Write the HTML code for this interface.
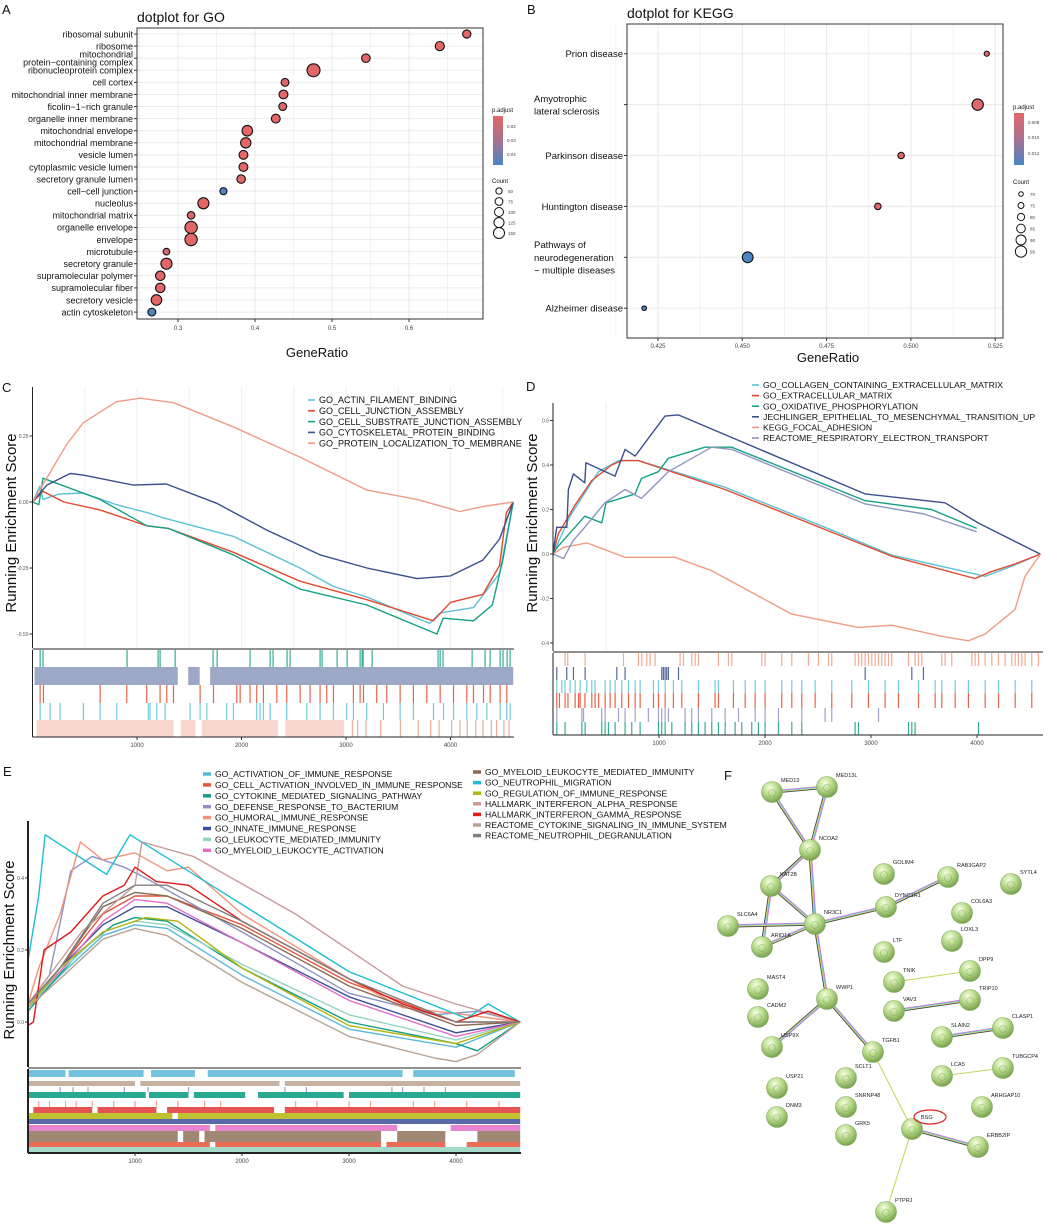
<!DOCTYPE html>
<html><head><meta charset="utf-8">
<style>
html,body{margin:0;padding:0;background:#fff;}
svg{display:block;font-family:"Liberation Sans",Arial,sans-serif;}
</style></head>
<body>
<svg id="fig" width="1052" height="1229" viewBox="0 0 1052 1229" xmlns="http://www.w3.org/2000/svg">
<defs>
<linearGradient id="gA" x1="0" y1="0" x2="0" y2="1"><stop offset="0" stop-color="#e36767"/><stop offset="0.5" stop-color="#a9708f"/><stop offset="1" stop-color="#4a86c5"/></linearGradient>
<radialGradient id="ball" cx="0.4" cy="0.3" r="0.75"><stop offset="0" stop-color="#f4ffe0"/><stop offset="0.45" stop-color="#b9dc8c"/><stop offset="1" stop-color="#6f9a45"/></radialGradient>
</defs>
<g id="panelA"></g>
<g id="panelB"></g>
<g id="panelC"></g>
<g id="panelD"></g>
<g id="panelE"></g>
<g id="panelF"></g>
</svg>
<script>
// ---------- Panel A data ----------
const goTerms = ["ribosomal subunit","ribosome","mitochondrial\nprotein\u2212containing complex","ribonucleoprotein complex","cell cortex","mitochondrial inner membrane","ficolin\u22121\u2212rich granule","organelle inner membrane","mitochondrial envelope","mitochondrial membrane","vesicle lumen","cytoplasmic vesicle lumen","secretory granule lumen","cell\u2212cell junction","nucleolus","mitochondrial matrix","organelle envelope","envelope","microtubule","secretory granule","supramolecular polymer","supramolecular fiber","secretory vesicle","actin cytoskeleton"];
const goRatio = [0.675,0.640,0.544,0.476,0.439,0.437,0.436,0.427,0.390,0.388,0.385,0.385,0.382,0.359,0.333,0.317,0.317,0.317,0.285,0.285,0.277,0.277,0.272,0.266];
const goCount = [60,75,65,150,55,70,55,70,100,95,70,70,65,45,110,50,135,135,40,110,80,80,100,55];
const goPadj = [0.012,0.012,0.012,0.012,0.013,0.012,0.013,0.012,0.012,0.012,0.012,0.012,0.013,0.048,0.012,0.015,0.012,0.012,0.016,0.012,0.012,0.012,0.012,0.046];
const goTicks = [0.3,0.4,0.5,0.6];
const goCountLegend = [50,75,100,125,150];
// ---------- Panel B data ----------
const keggTerms = ["Prion disease","Amyotrophic\nlateral sclerosis","Parkinson disease","Huntington disease","Pathways of\nneurodegeneration\n\u2212 multiple diseases","Alzheimer disease"];
const keggRatio = [0.5225,0.5198,0.4971,0.4902,0.4516,0.4209];
const keggCount = [72,95,77,77,93,70];
const keggPadj = [0.0075,0.0076,0.0077,0.0077,0.0135,0.0135];
const keggTicks = [0.425,0.450,0.475,0.500,0.525];
const keggCountLegend = [70,75,80,85,90,95];

// ---------- Panel C data (rank, score) ----------
const cNames = ["GO_ACTIN_FILAMENT_BINDING","GO_CELL_JUNCTION_ASSEMBLY","GO_CELL_SUBSTRATE_JUNCTION_ASSEMBLY","GO_CYTOSKELETAL_PROTEIN_BINDING","GO_PROTEIN_LOCALIZATION_TO_MEMBRANE"];
const cColors = ["#5bc2d8","#e2492e","#13a085","#3b4f8e","#f09c84"];
const cActin = [[0,0],[70,0.06],[100,0.01],[250,0.03],[485,0.034],[800,-0.01],[1095,-0.04],[1250,-0.06],[1920,-0.13],[2560,-0.25],[2880,-0.32],[3200,-0.36],[3800,-0.46],[3900,-0.42],[4220,-0.4],[4470,-0.27],[4600,0]];
const cJunction = [[0,0],[100,0.04],[300,0.0],[645,-0.03],[1095,-0.09],[1300,-0.1],[1920,-0.19],[2560,-0.3],[3200,-0.37],[3835,-0.45],[4000,-0.38],[4310,-0.35],[4470,-0.24],[4535,-0.04],[4600,0]];
const cSubstrate = [[0,0],[60,-0.01],[100,0.09],[645,0.01],[1095,-0.09],[1300,-0.1],[1920,-0.2],[2560,-0.33],[3200,-0.39],[3870,-0.5],[3930,-0.44],[4220,-0.45],[4400,-0.39],[4500,-0.22],[4600,0]];
const cCyto = [[0,0],[138,0.064],[360,0.108],[485,0.102],[965,0.064],[1280,0.068],[1763,-0.005],[2240,-0.106],[2750,-0.2],[3200,-0.25],[3680,-0.29],[4000,-0.28],[4310,-0.22],[4470,-0.14],[4600,0]];
const cProtein = [[0,0],[150,0.1],[330,0.22],[485,0.3],[805,0.38],[1030,0.393],[1350,0.376],[1920,0.285],[2560,0.17],[3200,0.045],[3680,0.01],[4090,-0.036],[4310,-0.017],[4600,0]];
const cYTicks = [-0.50,-0.25,0.00,0.25];
const cXTicks = [1000,2000,3000,4000];
const cRugGreen = [72,100,904,1201,1220,1364,1727,1766,2081,2273,2301,2435,2464,2751,2770,2914,3010,3134,3153,3163,3249,3880,3900,3928,4206,4330,4378,4474,4502,4541,4569];
const cRugNavy = [[20,1390],[1490,1600],[1700,4600]];
const cRugRed = [72,104,646,901,1092,1220,1284,1348,1603,1731,1954,1986,2081,2145,2209,2337,2432,2560,2655,2751,2815,2879,3070,3134,3166,3293,3389,3517,3644,3772,3900,4028,4155,4219,4315,4379,4474,4538];
const cRugCyan = [72,167,263,486,646,805,1108,1124,1188,1268,1507,1603,1667,1858,1922,2145,2177,2209,2273,2432,2624,2751,2879,3006,3070,3198,3357,3517,3644,3836,3932,4028,4155,4251,4347,4474,4538,4570];
const cRugSalmonBand = [[40,1350],[1420,1560],[1620,2350],[2420,2980]];
const cRugSalmon = [3060,3110,3190,3330,3520,3690,3810,3890,4010,4090,4160,4240,4310,4390,4440,4510,4560];

// ---------- Panel D data ----------
const dNames = ["GO_COLLAGEN_CONTAINING_EXTRACELLULAR_MATRIX","GO_EXTRACELLULAR_MATRIX","GO_OXIDATIVE_PHOSPHORYLATION","JECHLINGER_EPITHELIAL_TO_MESENCHYMAL_TRANSITION_UP","KEGG_FOCAL_ADHESION","REACTOME_RESPIRATORY_ELECTRON_TRANSPORT"];
const dColors = ["#5bc2d8","#e2492e","#13a085","#3b4f8e","#f09c84","#8f95c0"];
const dCollagen = [[0,0],[160,0.17],[428,0.37],[620,0.42],[805,0.42],[1623,0.3],[2566,0.12],[3195,-0.005],[3800,-0.07],[4075,-0.1],[4300,-0.06],[4600,0]];
const dEcm = [[0,0],[50,0.09],[208,0.22],[365,0.33],[553,0.40],[648,0.42],[805,0.42],[1623,0.29],[2566,0.11],[3195,-0.01],[3981,-0.11],[4130,-0.08],[4358,-0.045],[4600,0]];
const dOxphos = [[0,0],[40,0.03],[300,0.17],[460,0.14],[500,0.23],[775,0.27],[835,0.34],[994,0.37],[1088,0.43],[1434,0.48],[1685,0.48],[2943,0.24],[3570,0.2],[3997,0.115]];
const dJech = [[0,0],[35,0.12],[130,0.12],[145,0.29],[192,0.36],[300,0.32],[310,0.41],[585,0.35],[680,0.47],[775,0.44],[1057,0.62],[1182,0.625],[2943,0.27],[3698,0.23],[4010,0.14],[4595,0.0]];
const dFocal = [[0,0],[100,0.03],[320,0.05],[679,-0.015],[1151,-0.015],[1497,-0.075],[2252,-0.27],[2880,-0.33],[3195,-0.32],[3667,-0.37],[3918,-0.39],[4076,-0.36],[4358,-0.25],[4453,-0.1],[4600,0]];
const dReactome = [[0,0],[100,-0.02],[190,0.06],[300,0.12],[490,0.23],[680,0.29],[835,0.25],[1088,0.37],[1497,0.48],[1685,0.47],[2943,0.225],[3500,0.18],[3997,0.10]];
const dYTicks = [-0.4,-0.2,0.0,0.2,0.4,0.6];
const dXTicks = [1000,2000,3000,4000];
const dRugSalmon = [113,138,302,664,805,837,884,915,962,1198,1230,1308,1340,1371,1560,1654,1686,1969,2000,2157,2252,2409,2503,2598,2629,2849,2881,2912,2944,2975,3007,3038,3070,3101,3132,3164,3195,3353,3415,3447,3478,3667,3698,3761,3950,3981,4013,4076,4139,4202,4265,4327,4359,4390,4422,4453,4516,4579];
const dRugNavy = [35,129,192,302,601,679,1025,1041,1057,1072,1088,1183,2944,3384,3494];
const dRugCyan = [35,82,113,160,208,255,318,365,396,491,538,585,648,711,774,821,947,994,1057,1135,1214,1371,1528,1560,1701,1812,1906,2000,2157,2252,2346,2472,2629,2818,2975,3132,3258,3447,3604,3667,3793,3918,4076,4202,4359,4516];
const dRugRed = [35,60,113,140,208,240,255,300,365,396,430,491,538,585,648,711,774,821,947,994,1057,1135,1214,1371,1528,1560,1701,1812,1906,2000,2157,2252,2346,2472,2629,2818,2975,3132,3258,3447,3604,3667,3793,3918,4076,4202,4359,4516];
const dRugLav = [35,271,287,459,491,617,679,774,899,994,1025,1057,1088,1245,1308,1371,1497,1623,1749,1906,2000,2126,2346,2566,2629,3070];
const dRugGreen = [35,113,271,302,459,491,522,585,679,742,821,994,1025,1057,1120,1245,1308,1371,1434,1497,1560,1623,1717,1780,1874,1937,2000,2126,2252,2346,2849,2881,3353,3384,3415,4013];

// ---------- Panel E data ----------
const eNames = ["GO_ACTIVATION_OF_IMMUNE_RESPONSE","GO_CELL_ACTIVATION_INVOLVED_IN_IMMUNE_RESPONSE","GO_CYTOKINE_MEDIATED_SIGNALING_PATHWAY","GO_DEFENSE_RESPONSE_TO_BACTERIUM","GO_HUMORAL_IMMUNE_RESPONSE","GO_INNATE_IMMUNE_RESPONSE","GO_LEUKOCYTE_MEDIATED_IMMUNITY","GO_MYELOID_LEUKOCYTE_ACTIVATION","GO_MYELOID_LEUKOCYTE_MEDIATED_IMMUNITY","GO_NEUTROPHIL_MIGRATION","GO_REGULATION_OF_IMMUNE_RESPONSE","HALLMARK_INTERFERON_ALPHA_RESPONSE","HALLMARK_INTERFERON_GAMMA_RESPONSE","REACTOME_CYTOKINE_SIGNALING_IN_IMMUNE_SYSTEM","REACTOME_NEUTROPHIL_DEGRANULATION"];
const eColors = ["#5ab8d8","#e8533a","#129e86","#8d93c6","#f2937a","#3c4f9a","#93d4c0","#e36fc7","#8a6a52","#1cbfd2","#b5b60d","#c99a9a","#de1a1a","#b8a392","#808080"];
const eActivation = [[0,0.04],[300,0.13],[700,0.24],[1000,0.27],[1300,0.26],[2000,0.13],[3000,-0.02],[4000,-0.07],[4600,0]];
const eCellAct = [[0,0.04],[300,0.15],[700,0.3],[1000,0.35],[1300,0.35],[2000,0.27],[3000,0.11],[4000,0.0],[4600,0]];
const eCytokine = [[0,0.03],[200,0.1],[500,0.2],[800,0.27],[1000,0.29],[1300,0.28],[2000,0.15],[3000,0.0],[4000,-0.06],[4200,-0.08],[4600,0]];
const eDefense = [[0,0.05],[200,0.13],[400,0.42],[600,0.46],[900,0.43],[1100,0.4],[2000,0.25],[3000,0.08],[3800,0.02],[4200,0.03],[4600,0]];
const eHumoral = [[0,0.05],[100,0.15],[300,0.3],[490,0.5],[700,0.45],[1000,0.47],[1300,0.42],[1500,0.43],[2000,0.3],[3000,0.12],[3500,0.04],[4100,0.02],[4600,0]];
const eInnate = [[0,0.05],[300,0.15],[700,0.27],[1000,0.32],[1300,0.32],[2000,0.22],[3000,0.07],[4000,-0.03],[4600,0]];
const eLeukocyte = [[0,0.04],[300,0.14],[700,0.25],[1000,0.28],[1300,0.27],[2000,0.16],[3000,0.02],[4000,-0.05],[4600,0]];
const eMyeloidAct = [[0,0.05],[300,0.14],[700,0.28],[1000,0.34],[1300,0.33],[2000,0.22],[3000,0.06],[4000,-0.04],[4600,0]];
const eMyeloidMed = [[0,0.05],[300,0.15],[700,0.32],[1000,0.36],[1300,0.35],[2000,0.26],[3000,0.1],[4000,-0.01],[4600,0]];
const eNeutroMig = [[0,0.17],[100,0.35],[160,0.52],[735,0.41],[953,0.52],[1766,0.37],[3000,0.14],[4100,0.01],[4300,0.05],[4600,0]];
const eRegulation = [[0,0.04],[300,0.15],[700,0.25],[1100,0.29],[1400,0.28],[2000,0.15],[3000,-0.01],[4000,-0.06],[4600,0]];
const eAlpha = [[0,0.05],[500,0.25],[1000,0.38],[1065,0.5],[1545,0.46],[2500,0.3],[3500,0.1],[4000,0.05],[4600,0]];
const eGamma = [[0,-0.01],[50,0.0],[150,0.2],[400,0.25],[700,0.35],[900,0.38],[1000,0.43],[1200,0.39],[1500,0.38],[2000,0.28],[3000,0.12],[3500,0.05],[4000,0.0],[4300,0.03],[4600,0]];
const eReactCyt = [[0,0.04],[300,0.12],[700,0.23],[1000,0.26],[1300,0.24],[2000,0.11],[3000,-0.04],[3800,-0.1],[4000,-0.11],[4200,-0.09],[4600,0]];
const eReactNeu = [[0,0.05],[300,0.15],[700,0.33],[1000,0.38],[1300,0.38],[2000,0.28],[3000,0.12],[4000,0.0],[4600,0]];
const eYTicks = [0.0,0.2,0.4];
const eXTicks = [1000,2000,3000,4000];
const eRugCyan = [[0,350],[380,1080],[1150,1560],[1680,3500],[3600,4550]];
const eRugTan = [[0,1000],[1050,2350],[2400,4600]];
const eRugTeal = [[0,1100],[1130,1500],[1550,2030],[2150,2950],[3000,4600]];
const eRugRed = [[50,600],[650,1200],[1300,2300],[2400,4600]];
const eRugOlive = [[0,1350],[1400,4600]];
const eRugNavy = [[0,4600]];
const eRugMagenta = [[0,1700],[1750,3450],[3950,4600]];
const eRugBrown = [[0,1400],[1450,1600],[1650,3300],[3450,3900],[4200,4600]];
const eRugOrange = [[0,1700],[1750,3300],[3350,3900],[4100,4600]];
const eRugLightTeal = [[0,4600]];
const eRugLav = [300,420,560,900,1120,1500,2400,2600,3400,3500,3700,3900];
const eRugSalmon = [100,200,350,450,600,800,1000,1200,1400,1650,1800,2500,2700,3000,3200,3600,3800,4100,4400];

// ---------- helpers ----------
const NS="http://www.w3.org/2000/svg";
function el(parent,tag,attrs){const e=document.createElementNS(NS,tag);for(const k in attrs)e.setAttribute(k,attrs[k]);parent.appendChild(e);return e;}
function txt(parent,x,y,s,size,opts){opts=opts||{};const t=el(parent,"text",{x:x,y:y,"font-size":size,fill:opts.fill||"#111","text-anchor":opts.anchor||"start"});if(opts.rot)t.setAttribute("transform","rotate(-90 "+x+" "+y+")");t.textContent=s;return t;}
function lerpColor(a,b,t){const pa=[parseInt(a.slice(1,3),16),parseInt(a.slice(3,5),16),parseInt(a.slice(5,7),16)],pb=[parseInt(b.slice(1,3),16),parseInt(b.slice(3,5),16),parseInt(b.slice(5,7),16)];return "rgb("+pa.map((v,i)=>Math.round(v+(pb[i]-v)*t)).join(",")+")";}

// ---------- Panel A ----------
(function(){
const g=document.getElementById("panelA");
const L=137,R=483,T=28,B=319;
const xs=v=>178+(v-0.3)*770;
const ys=i=>34+i*12.09;
txt(g,2,14,"A",13);
const title=txt(g,137,22,"dotplot for GO",14);


el(g,"rect",{x:L,y:T,width:R-L,height:B-T,fill:"#fff"});
for(let v=0.25;v<=0.66;v+=0.05){const major=Math.abs((v*10)-Math.round(v*10))<0.01;el(g,"line",{x1:xs(v),x2:xs(v),y1:T,y2:B,stroke:"#ebebeb","stroke-width":major?1:0.6});}
goTerms.forEach((t,i)=>{el(g,"line",{x1:L,x2:R,y1:ys(i),y2:ys(i),stroke:"#ebebeb","stroke-width":1});});
el(g,"rect",{x:L,y:T,width:R-L,height:B-T,fill:"none",stroke:"#333","stroke-width":1});
goTerms.forEach((t,i)=>{
  const lines=t.split("\n");const n=lines.length;
  lines.forEach((ln,j)=>{const tt=txt(g,133,ys(i)+3.3+(j-(n-1)/2)*8,ln,9,{anchor:"end"});
    
    });
  el(g,"line",{x1:134,x2:137,y1:ys(i),y2:ys(i),stroke:"#333"});
  const c=el(g,"circle",{cx:xs(goRatio[i]),cy:ys(i),r:Math.sqrt(goCount[i])*0.53,fill:lerpColor("#e36767","#4a86c5",Math.min(1,(goPadj[i]-0.012)/0.036)),stroke:"#111","stroke-width":1.1});
  
  
});
goTicks.forEach(v=>{el(g,"line",{x1:xs(v),x2:xs(v),y1:B,y2:B+3,stroke:"#333"});txt(g,xs(v),B+11,v.toFixed(1),6,{anchor:"middle",fill:"#444"});});
const xt=txt(g,317,357,"GeneRatio",13,{anchor:"middle"});


txt(g,492,112,"p.adjust",6);
el(g,"rect",{x:493,y:116,width:10,height:49,fill:"url(#gA)"});
[["0.02",126],["0.03",140],["0.04",154]].forEach(p=>{txt(g,507,p[1]+2,p[0],4.5,{fill:"#444"});});
txt(g,492,183,"Count",6);
goCountLegend.forEach((c,i)=>{el(g,"circle",{cx:499,cy:191+i*10.5,r:Math.sqrt(c)*0.53*0.85,fill:"none",stroke:"#111","stroke-width":1});txt(g,508,193+i*10.5,String(c),4.5,{fill:"#444"});});
})();

// ---------- Panel B ----------
(function(){
const g=document.getElementById("panelB");
const L=627,R=1003,T=24,B=338;
const xs=v=>658+(v-0.425)*3372;
const ys=i=>53.7+i*50.9;
txt(g,527,14,"B",13);
const title=txt(g,627,18,"dotplot for KEGG",14);


for(let v=0.4125;v<=0.53;v+=0.0125){const major=Math.abs(v*40-Math.round(v*40))<0.01;el(g,"line",{x1:xs(v),x2:xs(v),y1:T,y2:B,stroke:"#ebebeb","stroke-width":major?1.2:0.6});}
keggTerms.forEach((t,i)=>{el(g,"line",{x1:L,x2:R,y1:ys(i),y2:ys(i),stroke:"#ebebeb","stroke-width":1.2});});
el(g,"rect",{x:L,y:T,width:R-L,height:B-T,fill:"none",stroke:"#333","stroke-width":1});
keggTerms.forEach((t,i)=>{
  const lines=t.split("\n");const n=lines.length;
  lines.forEach((ln,j)=>{const tt=txt(g,n>1?534:623,ys(i)+3.5+(j-(n-1)/2)*12.7,ln,9.5,{anchor:n>1?"start":"end"});
    
    });
  el(g,"line",{x1:624,x2:627,y1:ys(i),y2:ys(i),stroke:"#333"});
  const c=el(g,"circle",{cx:xs(keggRatio[i]),cy:ys(i),r:2.3+(keggCount[i]-70)*0.135,fill:lerpColor("#e36767","#4a86c5",Math.min(1,(keggPadj[i]-0.0075)/0.006)),stroke:"#111","stroke-width":1.1});
  
  
});
keggTicks.forEach(v=>{el(g,"line",{x1:xs(v),x2:xs(v),y1:B,y2:B+3,stroke:"#333"});txt(g,xs(v),B+10,v.toFixed(3),6,{anchor:"middle",fill:"#444"});});
const xt=txt(g,828,362,"GeneRatio",13,{anchor:"middle"});


txt(g,1013,109,"p.adjust",6);
el(g,"rect",{x:1014,y:113,width:10,height:52,fill:"url(#gA)"});
[["0.008",122],["0.010",137],["0.012",153]].forEach(p=>{txt(g,1028,p[1]+2,p[0],4.5,{fill:"#444"});});
txt(g,1013,184,"Count",6);
keggCountLegend.forEach((c,i)=>{const r=2.3+(c-70)*0.135;el(g,"circle",{cx:1021,cy:194+i*11.5,r:r,fill:"none",stroke:"#111","stroke-width":1});txt(g,1030,196+i*11.5,String(c),4.5,{fill:"#444"});});
})();

// ---------- GSEA builder ----------
function gsea(g,cfg){
  const xs=r=>cfg.x0+r*cfg.kx;
  const ys=v=>cfg.y0-v*cfg.ky;
  cfg.grid.forEach(r=>el(g,"line",{x1:xs(r),x2:xs(r),y1:cfg.top,y2:cfg.sep,stroke:"#efefef","stroke-width":1}));
  cfg.series.forEach((s,i)=>{
    const p=el(g,"polyline",{points:s.map(d=>xs(d[0]).toFixed(1)+","+ys(d[1]).toFixed(1)).join(" "),fill:"none",stroke:cfg.colors[i],"stroke-width":cfg.lw,"stroke-linejoin":"round"});
    
    
  });
  cfg.yTicks.forEach(v=>{el(g,"line",{x1:cfg.x0-3,x2:cfg.x0,y1:ys(v),y2:ys(v),stroke:"#333"});txt(g,cfg.x0-4,ys(v)+2,cfg.yfmt(v),5,{anchor:"end",fill:"#555"});});
  cfg.rugs.forEach(rw=>{
    (rw.bands||[]).forEach(b=>{const r=el(g,"rect",{x:xs(b[0]),y:rw.y,width:xs(b[1])-xs(b[0]),height:rw.h,fill:rw.c,opacity:rw.op||0.75});});
    (rw.ticks||[]).forEach(t=>{el(g,"rect",{x:xs(t)-0.5,y:rw.y,width:1.2,height:rw.h,fill:rw.c,opacity:0.85});});
  });
  el(g,"line",{x1:cfg.x0,x2:cfg.x0,y1:cfg.top,y2:cfg.sep,stroke:"#222","stroke-width":cfg.axw});
  el(g,"line",{x1:cfg.x0,x2:cfg.x0,y1:cfg.sep+2,y2:cfg.bot,stroke:"#222","stroke-width":cfg.axw});
  el(g,"line",{x1:cfg.x0,x2:cfg.xe,y1:cfg.sep+1,y2:cfg.sep+1,stroke:"#222","stroke-width":1});
  el(g,"line",{x1:cfg.x0,x2:cfg.xe,y1:cfg.bot,y2:cfg.bot,stroke:"#222","stroke-width":cfg.axw});
  cfg.xTicks.forEach(r=>{el(g,"line",{x1:xs(r),x2:xs(r),y1:cfg.bot,y2:cfg.bot+3,stroke:"#333"});txt(g,xs(r),cfg.bot+10,String(r),6,{anchor:"middle",fill:"#444"});});
  const yl=txt(g,cfg.ylx,cfg.yly,"Running Enrichment Score",cfg.ylSize,{anchor:"middle",rot:true});
  
  
}
function legend(g,names,colors,x,y,dy,size,keyW,keyH){
  names.forEach((n,i)=>{
    const k=el(g,"rect",{x:x,y:y+i*dy-keyH/2,width:keyW,height:keyH,fill:colors[i]});
    
    
    const t=txt(g,x+keyW+4,y+i*dy+size*0.36,n,size);
    
    
  });
}

// ---------- Panel C ----------
(function(){
const g=document.getElementById("panelC");
txt(g,2,392,"C",13);
gsea(g,{x0:32.5,kx:0.1045,y0:502,ky:264,top:387,sep:648,bot:737,xe:514,lw:1.4,axw:1,
  grid:[500,1000,1500,2000,2500,3000,3500,4000,4500],
  series:[cActin,cJunction,cSubstrate,cCyto,cProtein],colors:cColors,
  yTicks:cYTicks,yfmt:v=>v.toFixed(2),xTicks:cXTicks,ylx:16,yly:523,ylSize:15,
  rugs:[{y:650,h:17,c:"#13a085",ticks:cRugGreen},{y:667,h:18,c:"#3b4f8e",bands:cRugNavy,op:0.5},{y:685,h:18,c:"#e2492e",ticks:cRugRed},{y:703,h:17,c:"#5bc2d8",ticks:cRugCyan},{y:720,h:17,c:"#f09c84",bands:cRugSalmonBand,op:0.4,ticks:cRugSalmon}]});
legend(g,cNames,cColors,308,400,10.8,9,7,1.6);
})();

// ---------- Panel D ----------
(function(){
const g=document.getElementById("panelD");
txt(g,526,391,"D",13);
gsea(g,{x0:553,kx:0.106,y0:554,ky:222.5,top:403,sep:651,bot:735,xe:1043,lw:1.4,axw:1,
  grid:[500,2500],
  series:[dCollagen,dEcm,dOxphos,dJech,dFocal,dReactome],colors:dColors,
  yTicks:dYTicks,yfmt:v=>v.toFixed(1),xTicks:dXTicks,ylx:537,yly:523,ylSize:15,
  rugs:[{y:653,h:13,c:"#f09c84",ticks:dRugSalmon},{y:667,h:13,c:"#3b4f8e",ticks:dRugNavy},{y:680,h:13,c:"#5bc2d8",ticks:dRugCyan},{y:693,h:15,c:"#e2492e",ticks:dRugRed},{y:708,h:14,c:"#8f95c0",ticks:dRugLav},{y:722,h:13,c:"#13a085",ticks:dRugGreen}]});
legend(g,dNames,dColors,752,385,10.6,8.7,7,1.6);
})();

// ---------- Panel E ----------
(function(){
const g=document.getElementById("panelE");
txt(g,3,776,"E",13);
gsea(g,{x0:28,kx:0.107,y0:1022,ky:360,top:821,sep:1067,bot:1153,xe:521,lw:1.4,axw:2,
  grid:[],
  series:[eActivation,eCellAct,eCytokine,eDefense,eHumoral,eInnate,eLeukocyte,eMyeloidAct,eMyeloidMed,eNeutroMig,eRegulation,eAlpha,eGamma,eReactCyt,eReactNeu],colors:eColors,
  yTicks:eYTicks,yfmt:v=>v.toFixed(1),xTicks:eXTicks,ylx:14,yly:950,ylSize:15,
  rugs:[{y:1070,h:7,c:"#5ab8d8",bands:eRugCyan,op:0.85},{y:1081,h:5,c:"#b8a392",bands:eRugTan,op:0.85},{y:1087,h:5,c:"#8d93c6",ticks:eRugLav},{y:1092,h:6,c:"#129e86",bands:eRugTeal,op:0.9},{y:1101,h:6,c:"#f2937a",ticks:eRugSalmon},{y:1107,h:6,c:"#de1a1a",bands:eRugRed,op:0.75},{y:1113,h:6,c:"#b5b60d",bands:eRugOlive,op:0.85},{y:1119,h:5,c:"#3c4f9a",bands:eRugNavy,op:0.85},{y:1125,h:6,c:"#e36fc7",bands:eRugMagenta,op:0.85},{y:1131,h:11,c:"#8a6a52",bands:eRugBrown,op:0.8},{y:1142,h:5,c:"#e8533a",bands:eRugOrange,op:0.85},{y:1147,h:5,c:"#93d4c0",bands:eRugLightTeal,op:0.85}]});
legend(g,eNames.slice(0,8),eColors.slice(0,8),203,774,10.9,8.6,8,3.5);
legend(g,eNames.slice(8),eColors.slice(8),473,772,10.6,8.6,8,3.5);
})();

// ---------- Panel F ----------
const fNodes = {MED13:[772,792],MED13L:[827,787],NCOA2:[810,850],KAT2B:[771,886],SLC6A4:[728,926],NR3C1:[815,924],ARID1A:[762,947],GOLIM4:[884,874],RAB3GAP2:[948,877],SYTL4:[1011,884],DYNC1H1:[886,907],COL6A3:[962,913],LOXL3:[952,941],LTF:[884,952],DPP9:[970,971],TNIK:[894,982],TRIP10:[970,1000],VAV3:[894,1011],MAST4:[758,989],WWP1:[827,999],CADM2:[758,1017],CLASP1:[1003,1028],SLAIN2:[942,1037],USP9X:[772,1047],TGFB1:[873,1052],TUBGCP4:[1003,1068],LCA5:[942,1076],SCLT1:[846,1078],USP21:[777,1088],ARHGAP10:[982,1107],SNRNP48:[846,1107],DNM3:[777,1117],BSG:[912,1129],GRK5:[846,1135],ERBB2IP:[978,1147],PTPRJ:[886,1212]};
const fMultiEdges = [["MED13","MED13L"],["MED13","NCOA2"],["MED13L","NCOA2"],["NCOA2","KAT2B"],["NCOA2","NR3C1"],["KAT2B","NR3C1"],["KAT2B","ARID1A"],["SLC6A4","NR3C1"],["ARID1A","NR3C1"],["NR3C1","DYNC1H1"],["DYNC1H1","RAB3GAP2"],["NR3C1","WWP1"],["WWP1","USP9X"],["WWP1","TGFB1"],["VAV3","TRIP10"],["SLAIN2","CLASP1"],["BSG","ERBB2IP"]];
const fSingleEdges = [["TGFB1","BSG"],["BSG","PTPRJ"],["TNIK","DPP9"],["LCA5","TUBGCP4"]];
(function(){
const g=document.getElementById("panelF");
txt(g,724,780,"F",13);
const strands=["#d46ad4","#5fc7e6","#d7df5e","#444"];
fMultiEdges.forEach(e=>{
  const a=fNodes[e[0]],b=fNodes[e[1]];const dx=b[0]-a[0],dy=b[1]-a[1],L=Math.hypot(dx,dy);const nx=-dy/L,ny=dx/L;
  strands.forEach((c,k)=>{const o=(k-1.5)*0.8;const ln=el(g,"line",{x1:a[0]+nx*o,y1:a[1]+ny*o,x2:b[0]+nx*o,y2:b[1]+ny*o,stroke:c,"stroke-width":0.9});});
});
fSingleEdges.forEach(e=>{const a=fNodes[e[0]],b=fNodes[e[1]];const ln=el(g,"line",{x1:a[0],y1:a[1],x2:b[0],y2:b[1],stroke:"#c9d45e","stroke-width":1.1});});
Object.keys(fNodes).forEach(k=>{
  const p=fNodes[k];
  const c=el(g,"circle",{cx:p[0],cy:p[1],r:10.5,fill:"url(#ball)",stroke:"#7fa85a","stroke-width":0.6});
  
  
  el(g,"circle",{cx:p[0],cy:p[1]+1,r:3.5,fill:"none",stroke:"#8a9a7a","stroke-width":0.6,opacity:0.7});
  const t=txt(g,p[0]+9,p[1]-10,k,5.5,{fill:"#222"});
  
  
});
const bsg=el(g,"ellipse",{cx:930,cy:1117,rx:16,ry:7,fill:"none",stroke:"#e0201e","stroke-width":1.2});


})();
</script>
</body></html>
